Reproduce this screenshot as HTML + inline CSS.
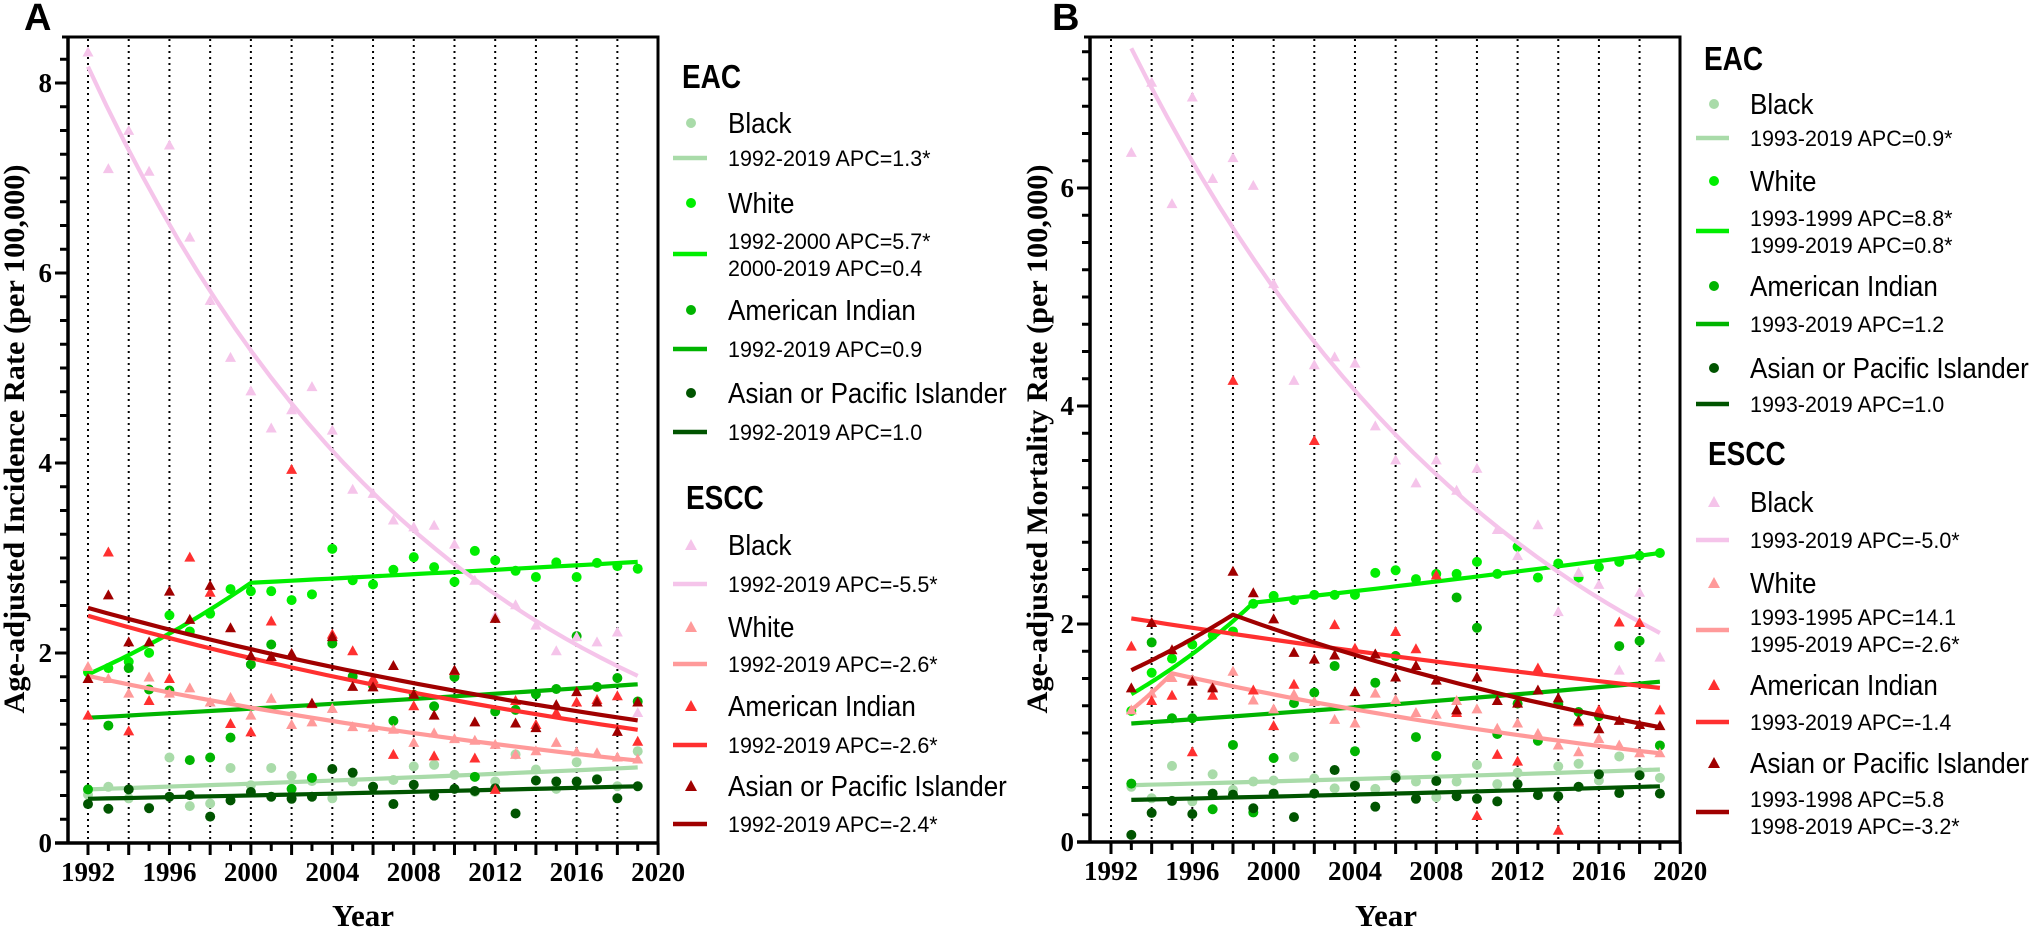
<!DOCTYPE html>
<html><head><meta charset="utf-8"><style>
html,body{margin:0;padding:0;background:#fff;width:2032px;height:930px;overflow:hidden}
svg{display:block}
.ser{font-family:"Liberation Serif",serif;font-weight:bold}
.san{font-family:"Liberation Sans",sans-serif}
</style></head><body>
<svg id="s" width="2032" height="930" viewBox="0 0 2032 930"></svg>
<script>
var out=[];
function add(s){out.push(s);}
var C={lb:'#a9dba9',wg:'#00ee00',ai:'#00b400',dg:'#005400',pk:'#f5c4ea',sa:'#ff9a9a',rd:'#ff3030',dr:'#a00000'};
function panel(P){
  var X=function(yr){return P.x0+(yr-1992)*P.dx;};
  var Yv=function(v){return P.y0-v*P.unit;};
  var L=P.left,R=P.right,T=37,B=P.y0;
  // dotted lines
  for(var yr=1992;yr<=2018;yr+=2){add('<line x1="'+X(yr)+'" y1="'+(T+2)+'" x2="'+X(yr)+'" y2="'+B+'" stroke="#000" stroke-width="2" stroke-dasharray="2,4"/>');}
  // frame
  add('<line x1="'+(L-6)+'" y1="'+T+'" x2="'+(R+1.5)+'" y2="'+T+'" stroke="#000" stroke-width="3"/>');
  add('<line x1="'+R+'" y1="'+T+'" x2="'+R+'" y2="'+B+'" stroke="#000" stroke-width="3"/>');
  add('<line x1="'+L+'" y1="'+T+'" x2="'+L+'" y2="'+(B+1.5)+'" stroke="#000" stroke-width="3.5"/>');
  add('<line x1="'+(L-13)+'" y1="'+B+'" x2="'+(R+1.5)+'" y2="'+B+'" stroke="#000" stroke-width="3.5"/>');
  // y ticks
  for(var v=0;v<=P.vmax+0.001;v+=0.25){var y=Yv(v);if(y<T-1)break;var maj=Math.abs(v/2-Math.round(v/2))<0.001;
    add('<line x1="'+(L-(maj?13:8))+'" y1="'+y+'" x2="'+L+'" y2="'+y+'" stroke="#000" stroke-width="3"/>');
    if(maj)add('<text class="ser" x="'+(L-16)+'" y="'+(y+9)+'" font-size="27" text-anchor="end">'+v+'</text>');}
  // x ticks
  for(var yr=1992;yr<=2020;yr++){var lab=(yr%4==0);
    add('<line x1="'+X(yr)+'" y1="'+B+'" x2="'+X(yr)+'" y2="'+(B+(yr%2==0?12:8))+'" stroke="#000" stroke-width="3"/>');
    if(lab)add('<text class="ser" x="'+X(yr)+'" y="'+(B+38)+'" font-size="27" text-anchor="middle">'+yr+'</text>');}
  add('<text class="ser" x="'+P.yearX+'" y="926" font-size="31" text-anchor="middle">Year</text>');
  add('<text class="ser" transform="translate('+P.titX+',439) rotate(-90)" font-size="30" text-anchor="middle" textLength="549" lengthAdjust="spacingAndGlyphs">'+P.title+'</text>');
  add('<text class="san" x="'+P.labX+'" y="30" font-size="38" font-weight="bold">'+P.lab+'</text>');
  var yzY=function(z){return 30+z*0.523;};
  function line(seg,col){
    var pts=[];
    for(var i=0;i<seg.length-1;i++){
      var a=seg[i],b=seg[i+1];var va=(P.y0-yzY(a[1]))/P.unit,vb=(P.y0-yzY(b[1]))/P.unit;
      for(var k=0;k<=30;k++){var t=k/30;var yr=a[0]+(b[0]-a[0])*t;var v=va*Math.pow(vb/va,t);pts.push(X(yr).toFixed(1)+','+Yv(v).toFixed(1));}
    }
    add('<polyline points="'+pts.join(' ')+'" fill="none" stroke="'+col+'" stroke-width="4.2" stroke-linejoin="round"/>');
  }
  function pts(arr,start,col,tri){
    for(var i=0;i<arr.length;i++){var x=X(start+i),y=yzY(arr[i]);
      if(tri)add('<polygon points="'+x+','+(y-5.5)+' '+(x-5.5)+','+(y+4.5)+' '+(x+5.5)+','+(y+4.5)+'" fill="'+col+'"/>');
      else add('<ellipse cx="'+x+'" cy="'+y+'" rx="5" ry="5" fill="'+col+'"/>');}
  }
  P.series.forEach(function(s){pts(s.d,P.start,s.c,s.t);line(s.l,s.c);});
  // legend
  var g=P.leg;
  function txt(x,y,s,fs,bold,sy){add('<text class="san" transform="translate('+x+','+y+') scale(1,'+(sy||1)+')" font-size="'+fs+'"'+(bold?' font-weight="bold"':'')+'>'+s+'</text>');}
  txt(g.hx,g.eac,'EAC',28,true,1.2);
  txt(g.hx+4,g.escc,'ESCC',28,true,1.2);
  g.items.forEach(function(it){
    if(it.m){ if(it.t)add('<polygon points="'+g.mx+','+(it.y-6)+' '+(g.mx-6)+','+(it.y+5)+' '+(g.mx+6)+','+(it.y+5)+'" fill="'+it.c+'"/>');
      else add('<circle cx="'+g.mx+'" cy="'+it.y+'" r="5" fill="'+it.c+'"/>');
      txt(g.tx,it.y+10,it.s,26,false,1.12);}
    else{add('<line x1="'+g.l1+'" y1="'+it.y+'" x2="'+g.l2+'" y2="'+it.y+'" stroke="'+it.c+'" stroke-width="4.5"/>');
      if(it.s2){txt(g.tx,it.y-5,it.s,21.5,false,1.05);txt(g.tx,it.y+22,it.s2,21.5,false,1.05);}
      else txt(g.tx,it.y+8,it.s,21.5,false,1.05);}
  });
}
var A={x0:88,dx:20.36,y0:843,unit:95,vmax:8.5,left:68,right:658,start:1992,yearX:363,titX:24,lab:'A',labX:24,
 title:'Age-adjusted Incidence Rate (per 100,000)',
 series:[
 {c:C.lb,d:[1462,1447,1469,1487,1391,1484,1479,1411,1444,1411,1426,1436,1469,1437,1447,1434,1408,1405,1424,1457,1437,1385,1414,1451,1400,1432,1446,1379],l:[[1992,1452],[2019,1410]]},
 {c:C.wg,d:[1228,1220,1208,1191,1119,1150,1116,1069,1073,1073,1090,1079,992,1052,1060,1032,1008,1027,1055,996,1014,1034,1046,1018,1046,1019,1025,1030],l:[[1992,1232],[2000,1057],[2019,1017]]},
 {c:C.ai,d:[1452,1330,1220,1261,1263,1396,1391,1353,1213,1175,1451,1430,1173,1236,1253,1321,1271,1293,1237,1428,1303,1300,1270,1260,1159,1256,1239,1284],l:[[1992,1315],[2019,1251]]},
 {c:C.dg,d:[1480,1489,1452,1488,1466,1463,1504,1473,1457,1466,1470,1466,1413,1420,1447,1480,1443,1464,1451,1455,1450,1498,1435,1437,1437,1433,1469,1446],l:[[1992,1470],[2019,1446]]},
 {c:C.pk,t:1,d:[42,265,192,270,220,396,517,626,690,761,726,682,765,878,886,937,950,947,983,1052,1120,1099,1138,1187,1160,1170,1151,1305],l:[[1992,70],[2019,1235]]},
 {c:C.sa,t:1,d:[1217,1240,1268,1237,1268,1258,1285,1276,1310,1278,1328,1323,1297,1332,1333,1337,1362,1344,1355,1358,1366,1385,1378,1362,1380,1382,1390,1394],l:[[1992,1235],[2019,1397]]},
 {c:C.rd,t:1,d:[1310,998,1340,1282,1240,1008,1075,1326,1342,1130,840,1288,1155,1187,1240,1385,1292,1388,1225,1392,1452,1282,1328,1305,1285,1280,1273,1360],l:[[1992,1120],[2019,1338]]},
 {c:C.dr,t:1,d:[1240,1080,1170,1170,1073,1127,1062,1143,1196,1198,1192,1287,1160,1255,1256,1215,1270,1310,1224,1323,1125,1325,1334,1290,1265,1285,1341,1285],l:[[1992,1105],[2019,1320]]}
 ],
 leg:{hx:682,eac:88,escc:509,mx:691,tx:728,l1:673,l2:707,items:[
 {m:1,y:123,c:C.lb,s:'Black'},{y:158,c:C.lb,s:'1992-2019 APC=1.3*'},
 {m:1,y:203,c:C.wg,s:'White'},{y:254,c:C.wg,s:'1992-2000 APC=5.7*',s2:'2000-2019 APC=0.4'},
 {m:1,y:310,c:C.ai,s:'American Indian'},{y:349,c:C.ai,s:'1992-2019 APC=0.9'},
 {m:1,y:393,c:C.dg,s:'Asian or Pacific Islander'},{y:432,c:C.dg,s:'1992-2019 APC=1.0'},
 {m:1,t:1,y:545,c:C.pk,s:'Black'},{y:584,c:C.pk,s:'1992-2019 APC=-5.5*'},
 {m:1,t:1,y:627,c:C.sa,s:'White'},{y:664,c:C.sa,s:'1992-2019 APC=-2.6*'},
 {m:1,t:1,y:706,c:C.rd,s:'American Indian'},{y:745,c:C.rd,s:'1992-2019 APC=-2.6*'},
 {m:1,t:1,y:786,c:C.dr,s:'Asian or Pacific Islander'},{y:824,c:C.dr,s:'1992-2019 APC=-2.4*'}]}
};
var B={x0:1111,dx:20.33,y0:842,unit:109,vmax:7.4,left:1090,right:1680,start:1993,yearX:1386,titX:1047,lab:'B',labX:1052,
 title:'Age-adjusted Mortality Rate (per 100,000)',
 series:[
 {c:C.lb,d:[1447,1469,1407,1475,1423,1453,1437,1435,1390,1431,1450,1441,1451,1424,1437,1467,1437,1405,1442,1420,1463,1408,1403,1435,1389,1418,1430],l:[[1993,1444],[2019,1414]]},
 {c:C.wg,d:[1302,1229,1202,1175,1157,1150,1097,1082,1090,1080,1080,1080,1038,1033,1050,1040,1040,1017,1040,988,1047,1020,1047,1027,1017,1005,1000],l:[[1993,1270],[1999,1095],[2019,1000]]},
 {c:C.ai,d:[1441,1171,1316,1316,1490,1367,1496,1392,1287,1267,1216,1379,1248,1197,1352,1388,1085,1143,1346,1288,1359,1289,1304,1312,1178,1168,1368],l:[[1993,1326],[2019,1246]]},
 {c:C.dg,d:[1539,1497,1474,1499,1460,1462,1488,1460,1505,1460,1415,1445,1485,1430,1470,1436,1465,1470,1475,1442,1463,1465,1447,1423,1459,1425,1460],l:[[1993,1472],[2019,1446]]},
 {c:C.pk,t:1,d:[234,100,332,128,284,244,297,485,670,640,625,637,757,822,866,822,880,838,955,1005,946,1112,1037,1060,1224,1075,1199],l:[[1993,35],[2019,1153]]},
 {c:C.sa,t:1,d:[1300,1268,1238,1242,1255,1226,1281,1298,1270,1284,1318,1325,1268,1280,1305,1308,1282,1298,1335,1325,1345,1367,1380,1355,1367,1382,1382],l:[[1993,1300],[1995,1230],[2019,1383]]},
 {c:C.rd,t:1,d:[1178,1282,1272,1380,1272,670,1262,1330,1251,785,1137,1182,1193,1150,1183,1042,1305,1502,1385,1398,1220,1530,1323,1300,1132,1133,1300],l:[[1993,1125],[2019,1258]]},
 {c:C.dr,t:1,d:[1258,1133,1185,1245,1258,1035,1076,1126,1190,1203,1195,1265,1193,1237,1215,1243,1300,1237,1282,1287,1262,1277,1320,1336,1320,1328,1330],l:[[1993,1224],[1998,1118],[2019,1333]]}
 ],
 leg:{hx:1704,eac:70,escc:465,mx:1714,tx:1750,l1:1696,l2:1729,items:[
 {m:1,y:104,c:C.lb,s:'Black'},{y:138,c:C.lb,s:'1993-2019 APC=0.9*'},
 {m:1,y:181,c:C.wg,s:'White'},{y:231,c:C.wg,s:'1993-1999 APC=8.8*',s2:'1999-2019 APC=0.8*'},
 {m:1,y:286,c:C.ai,s:'American Indian'},{y:324,c:C.ai,s:'1993-2019 APC=1.2'},
 {m:1,y:368,c:C.dg,s:'Asian or Pacific Islander'},{y:404,c:C.dg,s:'1993-2019 APC=1.0'},
 {m:1,t:1,y:502,c:C.pk,s:'Black'},{y:540,c:C.pk,s:'1993-2019 APC=-5.0*'},
 {m:1,t:1,y:583,c:C.sa,s:'White'},{y:630,c:C.sa,s:'1993-1995 APC=14.1',s2:'1995-2019 APC=-2.6*'},
 {m:1,t:1,y:685,c:C.rd,s:'American Indian'},{y:722,c:C.rd,s:'1993-2019 APC=-1.4'},
 {m:1,t:1,y:763,c:C.dr,s:'Asian or Pacific Islander'},{y:812,c:C.dr,s:'1993-1998 APC=5.8',s2:'1998-2019 APC=-3.2*'}]}
};
panel(A);panel(B);
document.getElementById('s').innerHTML=out.join('');
</script>
</body></html>
